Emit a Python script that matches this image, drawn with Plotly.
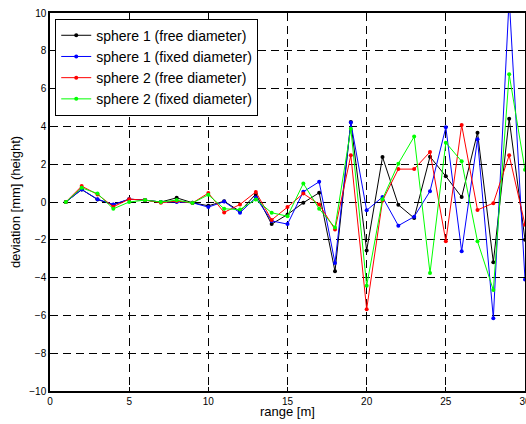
import plotly.graph_objects as go

x_range = list(range(1, 31))

sphere1_free = [0, 0.66, 0.13, -0.15, 0.15, 0.1, 0.0, 0.22, -0.04, -0.2,
                0.04, -0.5, 0.42, -1.17, -0.66, -0.04, 0.49, -3.67, 4.23, -2.57,
                2.38, -0.15, -0.85, 2.4, 1.36, 0.26, 3.67, -3.19, 4.4, -2.0]
sphere1_fixed = [0, 0.66, 0.15, -0.13, 0.15, 0.1, 0.0, 0.0, -0.04, -0.27,
                 0.02, -0.57, 0.24, -1.0, -1.17, 0.54, 1.07, -3.23, 4.2, -0.44,
                 0.26, -1.25, -0.78, 0.57, 3.95, -2.61, 3.32, -6.15, 10.8, -4.1]
sphere2_free = [0, 0.84, 0.4, -0.25, 0.15, 0.1, -0.04, 0.05, -0.05, 0.47,
                -0.55, -0.13, 0.53, -0.95, -0.27, 0.45, -0.13, -1.45, 2.47, -5.67,
                0.07, 1.74, 1.74, 2.65, -2.08, 4.07, -0.42, -0.06, 2.47, -1.2]
sphere2_fixed = [0, 0.75, 0.45, -0.36, 0.0, 0.1, 0.0, 0.1, -0.05, 0.38,
                 -0.36, -0.4, 0.13, -0.57, -0.75, 0.98, -0.36, -1.35, 3.88, -4.43,
                 0.15, 2.03, 3.46, -3.76, 3.14, 2.15, -2.08, -4.66, 6.76, 1.7]

series_names = ["sphere 1 (free diameter)", "sphere 1 (fixed diameter)",
                "sphere 2 (free diameter)", "sphere 2 (fixed diameter)"]
series_values = [sphere1_free, sphere1_fixed, sphere2_free, sphere2_fixed]
series_colors = ["#000000", "#0000ff", "#ff0000", "#00ff00"]

x_ticks = [0, 5, 10, 15, 20, 25, 30]
y_ticks = [-10, -8, -6, -4, -2, 0, 2, 4, 6, 8, 10]

FONT = "Liberation Sans, Arial"

fig = go.Figure()
for name, vals, col in zip(series_names, series_values, series_colors):
    fig.add_trace(go.Scatter(
        x=x_range, y=vals, name=name, mode="lines+markers",
        line=dict(color=col, width=1),
        marker=dict(color=col, size=4),
    ))

axis_common = dict(
    showline=True, linecolor="black", linewidth=1.5, mirror="ticks",
    ticks="inside", ticklen=4, tickcolor="black",
    showgrid=True, gridcolor="black", gridwidth=1, griddash="8px,5px",
    zeroline=False, automargin=False, ticklabeloverflow="allow",
    tickfont=dict(family=FONT, size=10, color="black"),
)

fig.update_xaxes(range=[0, 30], tickvals=x_ticks, **axis_common)
fig.update_yaxes(range=[-10, 10], tickvals=y_ticks,
                 title=dict(text="deviation [mm] (height)", standoff=6,
                            font=dict(family=FONT, size=13, color="black")),
                 **axis_common)

fig.add_annotation(text="range [m]", xref="paper", yref="paper",
                   x=0.5, y=0, xanchor="center", yanchor="middle",
                   yshift=-20, showarrow=False,
                   font=dict(family=FONT, size=13, color="black"))

fig.update_layout(
    width=526, height=424,
    margin=dict(l=50, r=1, t=13, b=33),
    plot_bgcolor="white", paper_bgcolor="white",
    font=dict(family=FONT, color="black"),
    legend=dict(x=0.011, y=0.985, xanchor="left", yanchor="top",
                bgcolor="white", bordercolor="black", borderwidth=1,
                font=dict(family=FONT, size=14, color="black"), tracegroupgap=0),
)

fig.write_html("out.html", config={"displayModeBar": False},
               post_script="document.body.style.margin='0';document.body.style.overflow='hidden';")
